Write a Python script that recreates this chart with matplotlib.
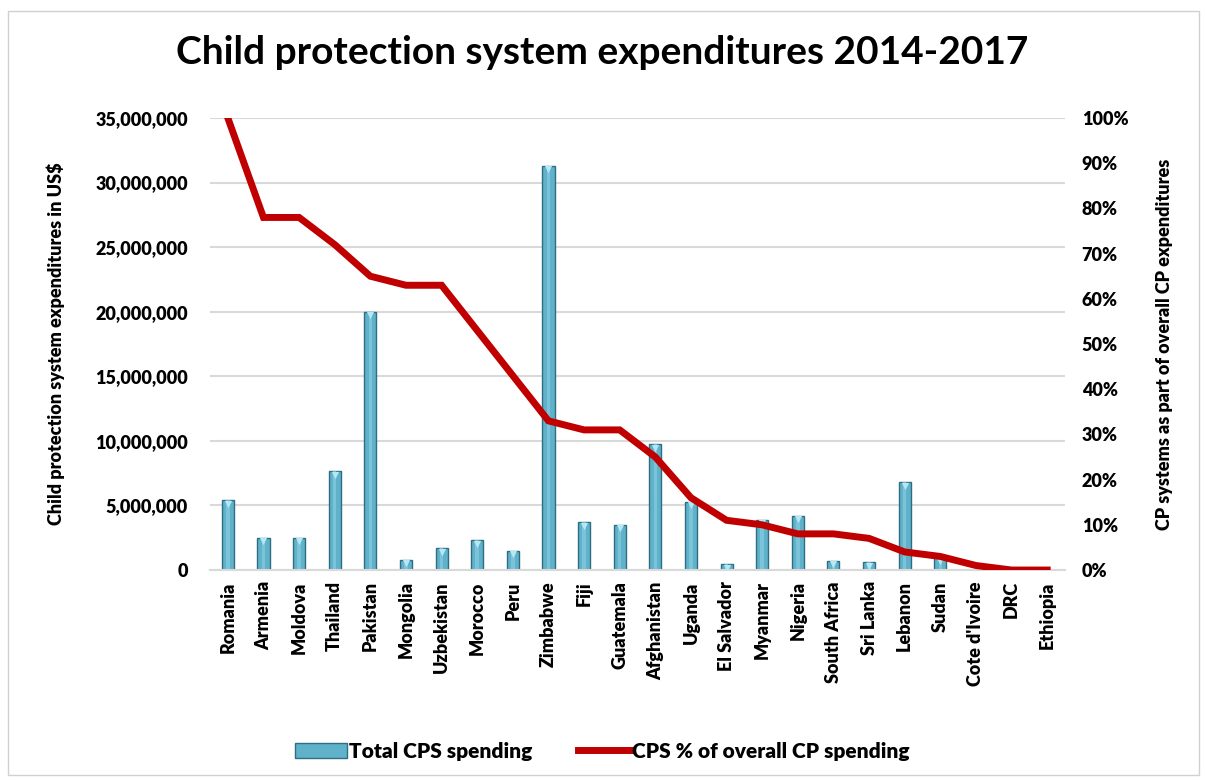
import matplotlib
matplotlib.use("Agg")
import matplotlib.pyplot as plt
import numpy as np
from matplotlib.patches import Rectangle
from matplotlib.ticker import FuncFormatter, PercentFormatter
from matplotlib.transforms import offset_copy

plt.rcParams['font.family'] = ['Lato', 'DejaVu Sans']
plt.rcParams['font.weight'] = 'heavy'

# Expenditure data by country, 2014-2017
countries = ['Romania', 'Armenia', 'Moldova', 'Thailand', 'Pakistan', 'Mongolia',
             'Uzbekistan', 'Morocco', 'Peru', 'Zimbabwe', 'Fiji', 'Guatemala',
             'Afghanistan', 'Uganda', 'El Salvador', 'Myanmar', 'Nigeria',
             'South Africa', 'Sri Lanka', 'Lebanon', 'Sudan', "Cote d'Ivoire",
             'DRC', 'Ethiopia']
cps_spending = [5400000, 2500000, 2500000, 7650000, 20000000, 800000,
                1700000, 2300000, 1500000, 31300000, 3700000, 3500000,
                9750000, 5300000, 450000, 3900000, 4200000,
                700000, 600000, 6800000, 1000000, 0,
                0, 0]
cps_share = [1.00, 0.78, 0.78, 0.72, 0.65, 0.63,
             0.63, 0.53, 0.43, 0.33, 0.31, 0.31,
             0.25, 0.16, 0.11, 0.10, 0.08,
             0.08, 0.07, 0.04, 0.03, 0.01,
             0.0, 0.0]

fs = 13
wt = 'heavy'

fig = plt.figure(figsize=(12.05, 7.8), dpi=100)
fig.patches.append(Rectangle((0.007, 0.006), 0.988, 0.98, transform=fig.transFigure,
                             fill=False, edgecolor='#d0d0d0', linewidth=1))

ax = fig.add_axes([0.1743, 0.2692, 0.7095, 0.5795])
x = np.arange(len(countries))

ax.bar(x, cps_spending, width=0.34, color='#5fb2ca', edgecolor='#2f6d82',
       linewidth=1.0, zorder=2, label='Total CPS spending')
# light highlight down the middle of each bar
ax.bar(x, cps_spending, width=0.10, color='#8fd0e2', linewidth=0, zorder=2.5, alpha=0.6)
# bevel tip just inside the top of each non-empty bar
spend = np.array(cps_spending, dtype=float)
has = spend > 0
tip = offset_copy(ax.transData, fig=fig, x=0, y=-2.5, units='points')
ax.scatter(x[has], spend[has], marker='v', s=28, color='#b4e8f4', linewidths=0,
           zorder=2.6, transform=tip)

ax.set_ylim(0, 35000000)
ax.set_yticks(np.arange(0, 35000001, 5000000))
ax.yaxis.set_major_formatter(FuncFormatter(lambda v, p: f'{int(v):,}'))
ax.set_xlim(-0.5, len(countries) - 0.5)
ax.set_xticks(x)
ax.set_xticklabels(countries, rotation=90)
ax.tick_params(axis='y', labelsize=fs, length=0, pad=16)
ax.tick_params(axis='x', labelsize=fs, length=0, pad=8)
ax.grid(axis='y', color='#d9d9d9', linewidth=1.5, zorder=0)
ax.set_axisbelow(True)
for s in ['top', 'left', 'right']:
    ax.spines[s].set_visible(False)
ax.spines['bottom'].set_color('#d9d9d9')
ax.spines['bottom'].set_linewidth(1.5)
ax.set_ylabel('Child protection system expenditures in US$', fontsize=fs,
              fontweight=wt, labelpad=22)

ax2 = ax.twinx()
ax2.plot(x, cps_share, color='#c00000', linewidth=5, solid_joinstyle='miter',
         label='CPS % of overall CP spending', zorder=3)
ax2.set_ylim(0, 1)
ax2.set_yticks(np.arange(0, 1.01, 0.1))
ax2.yaxis.set_major_formatter(PercentFormatter(1.0, decimals=0))
ax2.tick_params(axis='y', labelsize=fs, length=0, pad=12)
for s in ['top', 'left', 'right', 'bottom']:
    ax2.spines[s].set_visible(False)
ax2.set_ylabel('CP systems as part of overall CP expenditures', fontsize=fs,
               fontweight=wt, labelpad=20)

for lab in ax.get_xticklabels() + ax.get_yticklabels() + ax2.get_yticklabels():
    lab.set_fontweight(wt)

fig.suptitle('Child protection system expenditures 2014-2017', fontsize=28,
             fontweight='bold', y=0.955)

h1, l1 = ax.get_legend_handles_labels()
h2, l2 = ax2.get_legend_handles_labels()
fig.legend(h1 + h2, l1 + l2, loc='center', bbox_to_anchor=(0.5, 0.037), ncol=2,
           frameon=False, prop={'size': 15, 'weight': wt}, handlelength=2.5,
           columnspacing=2.2, handletextpad=0.1)

fig.savefig('out.png', dpi=100)
